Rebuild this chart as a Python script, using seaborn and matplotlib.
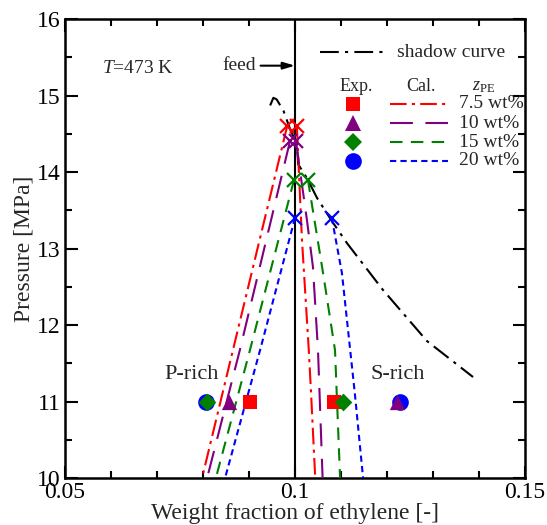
import matplotlib
matplotlib.use("Agg")
import matplotlib.pyplot as plt
import seaborn as sns
import pandas as pd
import numpy as np

# ---------------- data ----------------
series_names = ["7.5 wt%", "10 wt%", "15 wt%", "20 wt%"]
series_colors = ["#ff0000", "#800080", "#008000", "#0000ff"]
series_markers = ["s", "^", "D", "o"]

# experimental points (P = 11 MPa)
exp_P = [11.0, 11.0, 11.0, 11.0]
exp_prich_w = [0.0902, 0.0857, 0.0809, 0.08065]
exp_srich_w = [0.1085, 0.1222, 0.1104, 0.1228]

# calculated critical/cloud crosses
cross_P = [14.6, 14.4, 13.9, 13.4]
cross_left_w = [0.0983, 0.0989, 0.0998, 0.1000]
cross_right_w = [0.1004, 0.1002, 0.1028, 0.1080]

# calculated P-rich branches (w, P)
calc_prich_w = [[0.0983, 0.0865, 0.0798],
                [0.0989, 0.0880, 0.0809],
                [0.0998, 0.0902, 0.0828],
                [0.1000, 0.0924, 0.0848]]
calc_prich_P = [[14.6, 11.67, 10.0],
                [14.4, 11.67, 10.0],
                [13.9, 11.67, 10.0],
                [13.4, 11.67, 10.0]]
# calculated S-rich branches (w, P)
calc_srich_w = [[0.1004, 0.1015, 0.1030, 0.1035, 0.1044],
                [0.1002, 0.1026, 0.1039, 0.1050, 0.1060],
                [0.1028, 0.1061, 0.1087, 0.1098],
                [0.1080, 0.1102, 0.1130, 0.1148]]
calc_srich_P = [[14.6, 13.13, 11.67, 11.1, 10.0],
                [14.4, 13.37, 12.76, 11.67, 10.0],
                [13.9, 12.68, 11.67, 10.0],
                [13.4, 12.68, 11.11, 10.0]]

# shadow curve
shadow_w = [0.0946, 0.0953, 0.0960, 0.0975, 0.0990, 0.1004, 0.1007, 0.1026,
            0.1048, 0.1080, 0.1113, 0.1191, 0.1287, 0.1387]
shadow_P = [14.87, 14.97, 14.95, 14.80, 14.55, 14.37, 14.10, 13.92,
            13.66, 13.36, 13.07, 12.46, 11.79, 11.32]

feed_w = 0.1

x_ticks = [0.05, 0.1, 0.15]
x_ticklabels = ["0.05", "0.1", "0.15"]
y_ticks = [10, 11, 12, 13, 14, 15, 16]

line_dashes = [(8, 2.5, 1.5, 2.5), (11, 6), (6, 4), (3, 2)]
marker_sizes = [10, 11, 9, 12]

# ---------------- style ----------------
sns.set_theme(style="ticks")
plt.rcParams["font.family"] = ["Liberation Serif", "DejaVu Serif"]
plt.rcParams["mathtext.fontset"] = "custom"
plt.rcParams["mathtext.rm"] = "Liberation Serif"
plt.rcParams["mathtext.it"] = "Liberation Serif:italic"

fig = plt.figure(figsize=(5.47, 5.25), dpi=100)
ax = fig.add_axes([0.1188, 0.0895, 0.8410, 0.8743])

# feed line
ax.axvline(feed_w, color="black", lw=1.5, zorder=2)

# shadow curve
ax.plot(shadow_w, shadow_P, color="black", lw=1.5, dashes=(9, 3, 1.5, 3), zorder=3)

# calculated branches
for i in range(4):
    ax.plot(calc_prich_w[i], calc_prich_P[i], color=series_colors[i], lw=1.5,
            dashes=line_dashes[i], zorder=3)
    ax.plot(calc_srich_w[i], calc_srich_P[i], color=series_colors[i], lw=1.5,
            dashes=line_dashes[i], zorder=3)
    ax.plot([cross_left_w[i], cross_right_w[i]], [cross_P[i], cross_P[i]],
            ls="none", marker="x", ms=10, mew=1.6, color=series_colors[i], zorder=4)

# experimental points
df = pd.DataFrame({
    "w": exp_prich_w + exp_srich_w,
    "P": exp_P + exp_P,
    "series": series_names + series_names,
})
order = [3, 0, 2, 1]
for i in order:
    sub = df[df["series"] == series_names[i]]
    sns.scatterplot(data=sub, x="w", y="P", marker=series_markers[i],
                    s=marker_sizes[i] ** 2 * 1.0, color=series_colors[i],
                    linewidth=0, ax=ax, zorder=5, legend=False)

# axes
ax.set_xlim(0.05, 0.15)
ax.set_ylim(10, 16)
ax.set_xticks(x_ticks)
ax.set_xticklabels(x_ticklabels)
ax.set_yticks(y_ticks)
ax.xaxis.set_minor_locator(matplotlib.ticker.MultipleLocator(0.01))
ax.yaxis.set_minor_locator(matplotlib.ticker.MultipleLocator(0.5))
ax.tick_params(which="both", direction="in", top=True, right=True, width=1.5,
               labelsize=17, colors="black", pad=3)
ax.tick_params(which="major", length=9)
ax.tick_params(which="minor", length=5)
for sp in ax.spines.values():
    sp.set_linewidth(1.8)
    sp.set_color("black")
ax.set_xlabel("Weight fraction of ethylene [-]", fontsize=17, labelpad=0)
ax.set_ylabel("Pressure [MPa]", fontsize=17, labelpad=2)

# annotations
ax.text(0.058, 15.35, r"$T$=473 K", fontsize=14, ha="left", va="center")
ax.annotate("feed", xy=(feed_w, 15.39), xytext=(0.0915, 15.39), fontsize=14,
            ha="right", va="center",
            arrowprops=dict(arrowstyle="-|>,head_length=0.5,head_width=0.15",
                            color="black", lw=1.5, shrinkA=1, shrinkB=0))
ax.text(0.0776, 11.35, "P-rich", fontsize=16, ha="center", va="center")
ax.text(0.1224, 11.35, "S-rich", fontsize=16, ha="center", va="center")

# custom legend
T = ax.transAxes
ax.plot([0.554, 0.696], [0.928, 0.928], color="black", lw=1.5,
        dashes=(9, 3, 1.5, 3), transform=T)
ax.text(0.722, 0.928, "shadow curve", fontsize=14, ha="left", va="center", transform=T)
ax.text(0.633, 0.852, "Exp.", fontsize=13, ha="center", va="center", transform=T)
ax.text(0.774, 0.852, "Cal.", fontsize=13, ha="center", va="center", transform=T)
ax.text(0.909, 0.852, r"$z_{\mathrm{PE}}$", fontsize=13, ha="center", va="center",
        transform=T)
row_y = [0.815, 0.773, 0.732, 0.691]
for i in range(4):
    ax.plot([0.626], [row_y[i]], marker=series_markers[i], ms=marker_sizes[i],
            mew=0, color=series_colors[i], ls="none", transform=T)
    ax.plot([0.706, 0.832], [row_y[i], row_y[i]], color=series_colors[i], lw=1.5,
            dashes=line_dashes[i], transform=T)
    ax.text(0.857, row_y[i], series_names[i], fontsize=14, ha="left", va="center",
            transform=T)

fig.savefig("out.png", dpi=100)
